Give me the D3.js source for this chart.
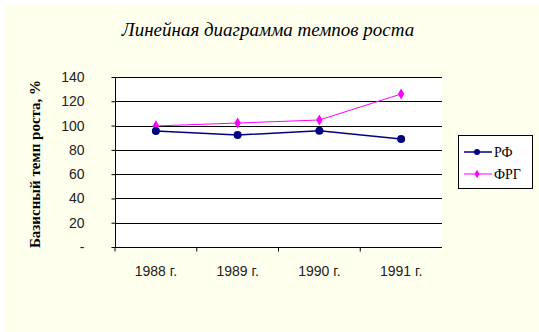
<!DOCTYPE html>
<html>
<head>
<meta charset="utf-8">
<script src="https://cdn.jsdelivr.net/npm/d3@7"></script>
<style>
  body { margin: 0; background: #fff; }
</style>
</head>
<body>
<script>
const years = ["1988 г.", "1989 г.", "1990 г.", "1991 г."];
const rfValues = [95.5, 92.2, 95.8, 89.0];
const frgValues = [99.7, 102.1, 104.6, 126.0];
const yTicks = [0, 20, 40, 60, 80, 100, 120, 140];

const w = 539, h = 332;
const plot = { left: 115, right: 442, top: 77, bottom: 247 };
const serif = "Liberation Serif";
const sans = "Liberation Sans";

const svg = d3.select("body").append("svg")
    .attr("width", w)
    .attr("height", h);

// chart background
svg.append("rect")
    .attr("x", 5).attr("y", 5)
    .attr("width", w - 5).attr("height", h - 5)
    .attr("fill", "#ffffee");

svg.append("rect")
    .attr("x", plot.left).attr("y", plot.top)
    .attr("width", plot.right - plot.left).attr("height", plot.bottom - plot.top)
    .attr("fill", "#fff");

// title
svg.append("text")
    .attr("font-family", serif)
    .attr("x", 268).attr("y", 36)
    .attr("text-anchor", "middle")
    .attr("font-style", "italic")
    .attr("font-size", 19)
    .text("Линейная диаграмма темпов роста");

const x = d3.scaleBand().domain(years).range([plot.left, plot.right]);
const y = d3.scaleLinear().domain([0, 140]).range([plot.bottom, plot.top]);

// gridlines
svg.append("g")
    .selectAll("line")
    .data(yTicks.filter(d => d > 0))
    .enter()
    .append("line")
    .attr("x1", plot.left).attr("x2", plot.right)
    .attr("y1", d => Math.round(y(d)) + 0.5)
    .attr("y2", d => Math.round(y(d)) + 0.5)
    .attr("stroke", "#000");

// y axis
const yAxis = d3.axisLeft(y)
    .tickValues(yTicks)
    .tickSize(4)
    .tickFormat(d => d === 0 ? "-" : d);

const yg = svg.append("g")
    .attr("transform", "translate(" + (plot.left + 0.5) + ",0)")
    .call(yAxis)
    .attr("font-family", sans)
    .attr("font-size", 14);
yg.select(".domain").attr("stroke", "#000").attr("d", "M0," + plot.top + "V" + plot.bottom);
yg.selectAll(".tick line").attr("x2", -4);
yg.selectAll(".tick text")
    .attr("x", -31)
    .attr("fill", "#222");

// x axis
const xAxis = d3.axisBottom(x).tickSize(4).tickSizeOuter(0);
const xg = svg.append("g")
    .attr("transform", "translate(0," + (plot.bottom + 0.5) + ")")
    .call(xAxis)
    .attr("font-family", sans)
    .attr("font-size", 14);
xg.select(".domain").attr("d", "M" + plot.left + ",0H" + plot.right).attr("stroke", "#000");
// ticks at band boundaries
xg.selectAll(".tick line")
    .attr("x1", -x.bandwidth() / 2)
    .attr("x2", -x.bandwidth() / 2)
    .attr("y2", 4);
xg.selectAll(".tick text")
    .attr("y", 19)
    .attr("fill", "#222");

// y axis title
svg.append("text")
    .attr("font-family", serif)
    .attr("transform", "translate(40," + ((plot.top + plot.bottom) / 2 + 2) + ") rotate(-90)")
    .attr("text-anchor", "middle")
    .attr("font-weight", "bold")
    .attr("font-size", 15)
    .text("Базисный темп роста, %");

const cx = (d, i) => x(years[i]) + x.bandwidth() / 2;
const line = d3.line().x(cx).y(d => y(d));

// series ФРГ
svg.append("path")
    .attr("d", line(frgValues))
    .attr("fill", "none")
    .attr("stroke", "#ff00ff")
    .attr("stroke-width", 1);
const diamond = d3.symbol().type(d3.symbolDiamond).size(36);
const smallDiamond = d3.symbol().type(d3.symbolDiamond).size(22);
svg.append("g").selectAll("path")
    .data(frgValues)
    .enter()
    .append("path")
    .attr("d", diamond)
    .attr("transform", (d, i) => "translate(" + cx(d, i) + "," + y(d) + ")")
    .attr("fill", "#ff00ff");

// series РФ
svg.append("path")
    .attr("d", line(rfValues))
    .attr("fill", "none")
    .attr("stroke", "#000080")
    .attr("stroke-width", 1.5);
svg.append("g").selectAll("circle")
    .data(rfValues)
    .enter()
    .append("circle")
    .attr("cx", cx)
    .attr("cy", d => y(d))
    .attr("r", 4)
    .attr("fill", "#000080");

// legend
const legend = svg.append("g");
legend.append("rect")
    .attr("x", 458.5).attr("y", 135.5)
    .attr("width", 74).attr("height", 53)
    .attr("fill", "#fff")
    .attr("stroke", "#000");

const legendItems = [
    { name: "РФ", color: "#000080", y: 152, kind: "circle" },
    { name: "ФРГ", color: "#ff00ff", y: 174, kind: "diamond" }
];
legendItems.forEach(it => {
    legend.append("line")
        .attr("x1", 464).attr("x2", 492)
        .attr("y1", it.y).attr("y2", it.y)
        .attr("stroke", it.color)
        .attr("stroke-width", it.kind === "circle" ? 1.5 : 1);
    if (it.kind === "circle") {
        legend.append("circle").attr("cx", 477).attr("cy", it.y).attr("r", 3).attr("fill", it.color);
    } else {
        legend.append("path").attr("d", smallDiamond).attr("transform", "translate(477," + it.y + ")").attr("fill", it.color);
    }
    legend.append("text")
        .attr("font-family", serif)
        .attr("x", 494).attr("y", it.y + 5)
        .attr("font-size", 14)
        .text(it.name);
});
</script>
</body>
</html>
